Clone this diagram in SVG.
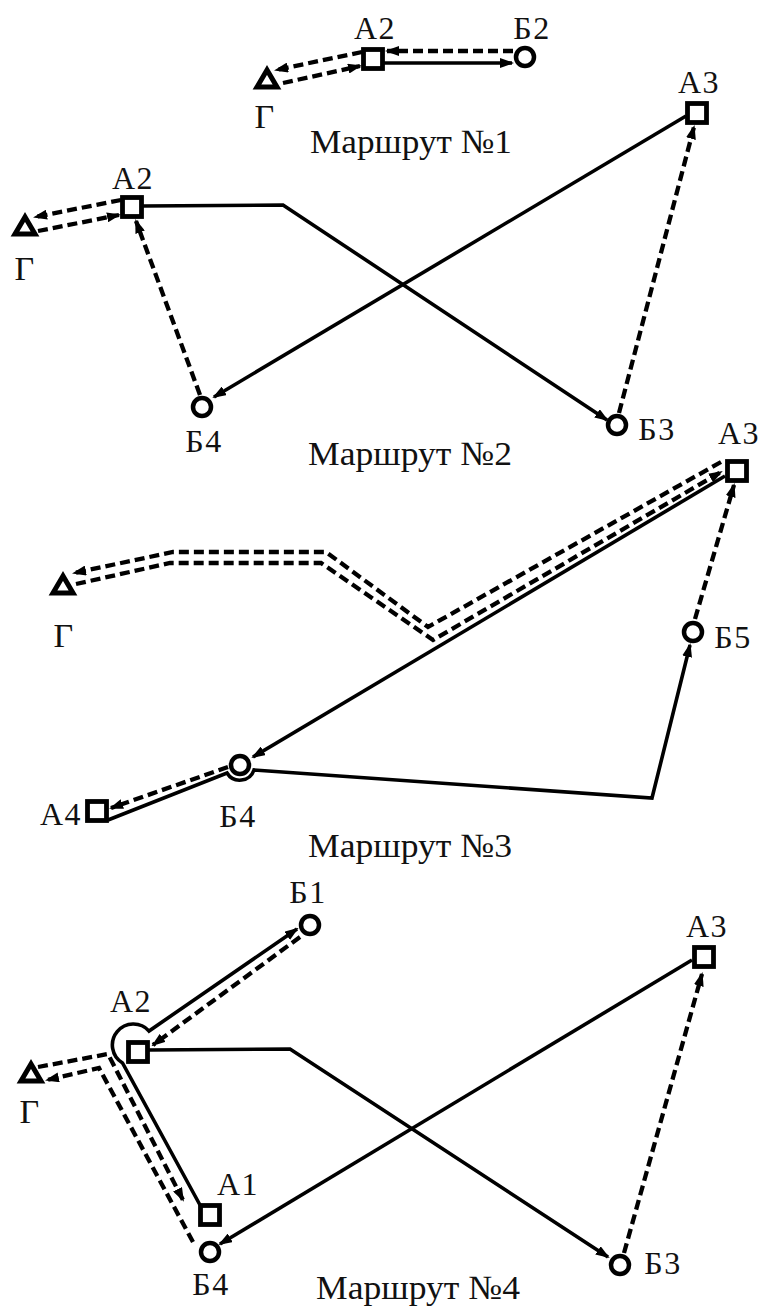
<svg xmlns="http://www.w3.org/2000/svg" width="761" height="1310" viewBox="0 0 761 1310">
<defs>
<style>
.sq{fill:#fff;stroke:#000;stroke-width:4.8}
.ci{fill:#fff;stroke:#000;stroke-width:4.5}
.tr{fill:#fff;stroke:#000;stroke-width:5;stroke-linejoin:miter}
.s{fill:none;stroke:#000;stroke-width:3.6;stroke-linejoin:miter}
.d{fill:none;stroke:#000;stroke-width:4.3;stroke-dasharray:10 5}
.a{marker-end:url(#ah)}
.l{font-family:"Liberation Serif","Times New Roman",serif;font-size:32px;fill:#111;text-anchor:middle;letter-spacing:1.5px}
.g{font-size:34px}
.t{font-family:"Liberation Serif","Times New Roman",serif;font-size:34px;fill:#111}
</style>
<marker id="ah" markerUnits="userSpaceOnUse" viewBox="0 0 14 10" markerWidth="14" markerHeight="10" refX="12" refY="5" orient="auto"><path d="M0,0 L14,5 L0,10 z" fill="#000"/></marker>
</defs>
<rect width="761" height="1310" fill="#fff"/>

<g id="connectors">
<!-- Route 1 -->
<path class="d a" d="M362 52 L276 70"/>
<path class="d a" d="M283 83 L360 66"/>
<path class="d a" d="M513 51 L387 51"/>
<path class="s a" d="M384 63 L512 63"/>
<!-- Route 2 -->
<path class="s a" d="M143 206 L283 205 L607 420"/>
<path class="s a" d="M686 116 L214 397"/>
<path class="d a" d="M619 413 L694 127"/>
<path class="d a" d="M200 395 L136 221"/>
<path class="d a" d="M121 200 L35 217"/>
<path class="d a" d="M38 231 L119 215"/>
<!-- Route 3 -->
<path class="s a" d="M725 476 L253 757"/>
<path class="d a" d="M721 462 L428 627 L326 552 L173 552 L74 573"/>
<path class="d a" d="M76 584 L170 563 L321 563 L433 640 L721 472"/>
<path class="d a" d="M695 619 L734 485"/>
<path class="s a" d="M108 820 L227 773 A15 15 0 0 0 254 770 L652 798 L690 645"/>
<path class="d a" d="M228 767 L111 808"/>
<!-- Route 4 -->
<path class="s a" d="M692 960 L220 1244"/>
<path class="s a" d="M149 1050 L290 1049 L608 1257"/>
<path class="d a" d="M624 1253 L702 974"/>
<path class="s a" d="M200 1205 L122.5 1063 A21 21 0 1 1 149 1031 L297 929"/>
<path class="d a" d="M300 937 L153 1045"/>
<path class="d a" d="M38 1067 L108 1054 L183 1200"/>
<path class="d a" d="M193 1242 L99 1068 L47 1080"/>
</g>

<!-- Route 1 nodes -->
<g id="r1-G"><polygon class="tr" points="267,70 257,87 277,87"/><text class="l g" x="265" y="128">Г</text></g>
<g id="r1-A2"><rect class="sq" x="363.5" y="49.5" width="19" height="19"/><text class="l" x="375" y="39">А2</text></g>
<g id="r1-B2"><circle class="ci" cx="525" cy="57" r="9"/><text class="l" x="532" y="39">Б2</text></g>
<g id="r1-title"><text class="t" x="310" y="153" textLength="202" lengthAdjust="spacingAndGlyphs">Маршрут №1</text></g>

<!-- Route 2 nodes -->
<g id="r2-G"><polygon class="tr" points="25,217 15,234 35,234"/><text class="l g" x="25" y="280">Г</text></g>
<g id="r2-A2"><rect class="sq" x="122.5" y="197.5" width="19" height="19"/><text class="l" x="133" y="189">А2</text></g>
<g id="r2-B4"><circle class="ci" cx="202" cy="407" r="9"/><text class="l" x="204" y="452">Б4</text></g>
<g id="r2-B3"><circle class="ci" cx="617" cy="425" r="9"/><text class="l" x="657" y="440">Б3</text></g>
<g id="r2-A3"><rect class="sq" x="687.5" y="103.5" width="19" height="19"/><text class="l" x="699" y="93">А3</text></g>
<g id="r2-title"><text class="t" x="308" y="465" textLength="204" lengthAdjust="spacingAndGlyphs">Маршрут №2</text></g>

<!-- Route 3 nodes -->
<g id="r3-G"><polygon class="tr" points="63,576 53,593 73,593"/><text class="l g" x="64" y="647">Г</text></g>
<g id="r3-A3"><rect class="sq" x="727.5" y="461.5" width="19" height="19"/><text class="l" x="739" y="444">А3</text></g>
<g id="r3-B5"><circle class="ci" cx="693" cy="632" r="9"/><text class="l" x="733" y="648">Б5</text></g>
<g id="r3-B4"><circle class="ci" cx="240" cy="765" r="9"/><text class="l" x="238" y="827">Б4</text></g>
<g id="r3-A4"><rect class="sq" x="87.5" y="801.5" width="19" height="19"/><text class="l" x="61" y="825">А4</text></g>
<g id="r3-title"><text class="t" x="308" y="857" textLength="204" lengthAdjust="spacingAndGlyphs">Маршрут №3</text></g>

<!-- Route 4 nodes -->
<g id="r4-B1"><circle class="ci" cx="310" cy="925" r="9"/><text class="l" x="308" y="903">Б1</text></g>
<g id="r4-A2"><rect class="sq" x="128.5" y="1042.5" width="19" height="19"/><text class="l" x="131" y="1012">А2</text></g>
<g id="r4-G"><polygon class="tr" points="31,1064 21,1081 41,1081"/><text class="l g" x="30" y="1123">Г</text></g>
<g id="r4-A1"><rect class="sq" x="200.5" y="1205.5" width="19" height="19"/><text class="l" x="238" y="1195">А1</text></g>
<g id="r4-B4"><circle class="ci" cx="210" cy="1252" r="9"/><text class="l" x="211" y="1295">Б4</text></g>
<g id="r4-A3"><rect class="sq" x="694.5" y="947.5" width="19" height="19"/><text class="l" x="707" y="937">А3</text></g>
<g id="r4-B3"><circle class="ci" cx="620" cy="1265" r="9"/><text class="l" x="663" y="1274">Б3</text></g>
<g id="r4-title"><text class="t" x="316" y="1299" textLength="204" lengthAdjust="spacingAndGlyphs">Маршрут №4</text></g>
</svg>
